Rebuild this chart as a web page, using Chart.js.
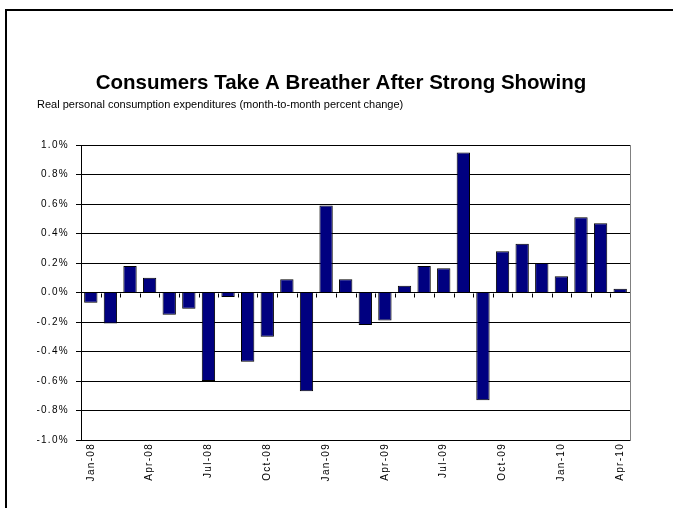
<!DOCTYPE html>
<html>
<head>
<meta charset="utf-8">
<script src="https://cdn.jsdelivr.net/npm/chart.js@4"></script>
<style>
  html, body { margin: 0; padding: 0; background: #fff; }
  #wrap { position: relative; width: 673px; height: 508px; overflow: hidden; }
  #frame { position: absolute; left: 5px; top: 9px; width: 700px; height: 600px;
           border-left: 2px solid #000; border-top: 2px solid #000; }
  canvas { position: absolute; left: 0; top: 0; }
</style>
</head>
<body>
<div id="wrap">
  <div id="frame"></div>
  <canvas id="c" width="673" height="508"></canvas>
</div>
<script>
const titleText = 'Consumers Take A Breather After Strong Showing';
const subtitleText = 'Real personal consumption expenditures (month-to-month percent change)';

const months = [
  'Jan-08','Feb-08','Mar-08','Apr-08','May-08','Jun-08','Jul-08','Aug-08','Sep-08','Oct-08','Nov-08','Dec-08',
  'Jan-09','Feb-09','Mar-09','Apr-09','May-09','Jun-09','Jul-09','Aug-09','Sep-09','Oct-09','Nov-09','Dec-09',
  'Jan-10','Feb-10','Mar-10','Apr-10'
];
const pceChange = [
  -0.07, -0.21, 0.18, 0.10, -0.15, -0.11, -0.60, -0.03, -0.47, -0.30, 0.09, -0.67,
   0.59,  0.09, -0.22, -0.19, 0.045, 0.18, 0.165, 0.95, -0.73, 0.28, 0.33, 0.20,
   0.11,  0.51, 0.47, 0.025
];
const yMin = -1.0, yMax = 1.0, yStep = 0.2;
const labelEvery = 3;

const FONT = "'Liberation Sans', Arial, sans-serif";

const spacingPlugin = {
  id: 'spacing',
  beforeDraw(chart) { chart.ctx.letterSpacing = '0px'; },
  afterDatasetsDraw(chart) {
    const ctx = chart.ctx, x = chart.scales.x, y = chart.scales.y;
    const y0 = Math.round(y.getPixelForValue(0)) + 0.5;
    ctx.save();
    ctx.strokeStyle = '#000';
    ctx.lineWidth = 1;
    ctx.beginPath();
    for (let i = 1; i < months.length; i++) {
      const bx = Math.round((x.getPixelForValue(i - 1) + x.getPixelForValue(i)) / 2) + 0.5;
      ctx.moveTo(bx, y0);
      ctx.lineTo(bx, y0 + 4);
    }
    ctx.stroke();
    ctx.restore();
    ctx.letterSpacing = '1.3px';
  },
  afterDraw(chart) { chart.ctx.letterSpacing = '0px'; }
};

new Chart(document.getElementById('c'), {
  type: 'bar',
  data: {
    labels: months,
    datasets: [{
      data: pceChange,
      backgroundColor: '#000080',
      borderColor: '#000000',
      borderWidth: 1,
      barPercentage: 0.68,
      categoryPercentage: 1.0
    }]
  },
  options: {
    responsive: false,
    animation: false,
    devicePixelRatio: 1,
    layout: { padding: { left: 37, right: 28, top: 0, bottom: 18 } },
    plugins: {
      legend: { display: false },
      tooltip: { enabled: false },
      title: {
        display: true, text: titleText, color: '#000',
        font: { family: FONT, size: 20.5, weight: 'bold', lineHeight: 1.2 },
        padding: { top: 70.7, bottom: 0 }
      },
      subtitle: {
        display: true, text: subtitleText, color: '#000', align: 'start',
        font: { family: FONT, size: 11, weight: 'normal', lineHeight: 1.2 },
        padding: { top: 3.1, bottom: 33.4 }
      }
    },
    scales: {
      x: {
        offset: true,
        grid: { display: false, drawTicks: false },
        border: { display: true, color: '#000', width: 1 },
        ticks: {
          autoSkip: false, minRotation: 90, maxRotation: 90, padding: 3, z: 1,
          color: '#000', font: { family: FONT, size: 10 },
          callback: (v, i) => (i % labelEvery === 0 ? months[i] : '')
        },
        afterFit: (s) => { s.height = 50; }
      },
      y: {
        min: yMin, max: yMax,
        grid: { color: '#000', lineWidth: 1, tickLength: 5 },
        border: { display: true, color: '#000', width: 1 },
        ticks: {
          stepSize: yStep, padding: 7, color: '#000', z: 1,
          font: { family: FONT, size: 10 },
          callback: (v) => (Math.abs(v) < 1e-9 ? 0 : v).toFixed(1) + '%'
        },
        afterFit: (s) => { s.width = 44; }
      },
      y2: {
        position: 'right', min: 0, max: 1,
        grid: { display: false, drawTicks: false },
        border: { display: true, color: '#808080', width: 1 },
        ticks: { display: false },
        afterFit: (s) => { s.width = 15; }
      }
    }
  },
  plugins: [spacingPlugin]
});
</script>
</body>
</html>
